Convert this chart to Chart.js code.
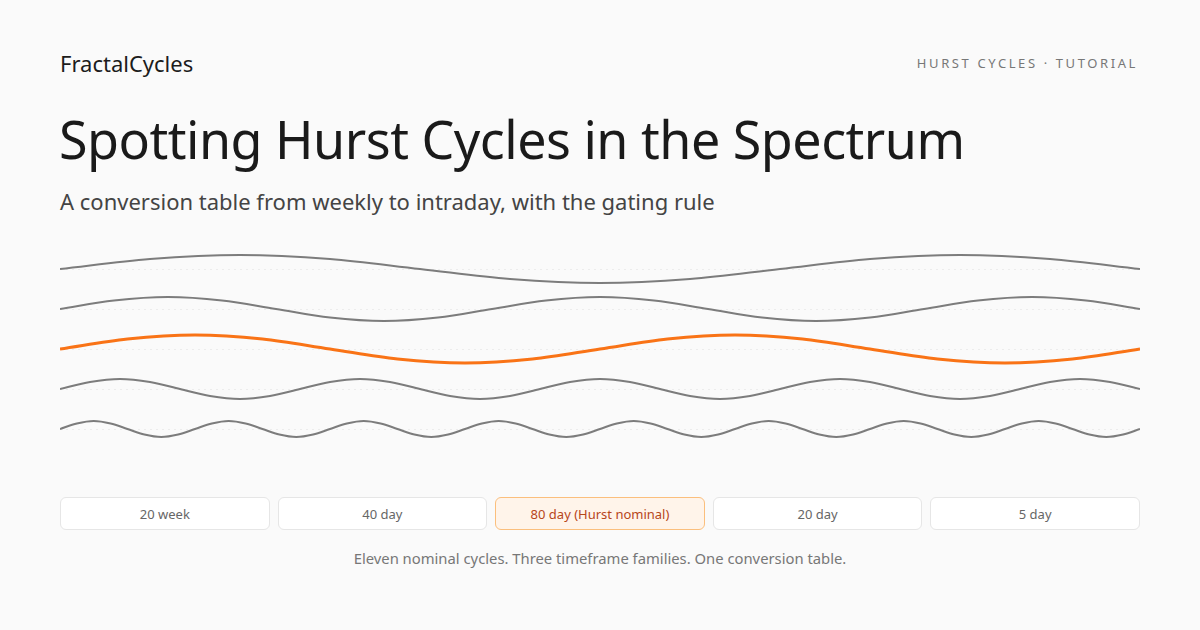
<!DOCTYPE html>
<html>
<head>
<meta charset="utf-8">
<script src="https://cdn.jsdelivr.net/npm/chart.js@4.4.1/dist/chart.umd.min.js"></script>
<style>
  html, body { margin: 0; padding: 0; }
  body {
    width: 1200px; height: 630px; overflow: hidden;
    background: #fafafa;
    font-family: "Noto Sans", "Open Sans", sans-serif;
    position: relative;
  }
  .brand { position: absolute; left: 60px; top: 48px; font-size: 22px; color: #1c1c1c; }
  .kicker { position: absolute; right: 62px; top: 54px; font-size: 13px; letter-spacing: 2.6px; color: #777; }
  h1 { position: absolute; left: 59px; top: 103px; margin: 0; font-size: 52px; font-weight: 400; color: #1a1a1a; letter-spacing: -0.5px; }
  .sub { position: absolute; left: 60px; top: 186px; font-size: 22px; color: #444; }
  .wrap { position: absolute; left: 60px; top: 249px; width: 1080px; height: 200px; }
  .pills { position: absolute; left: 60px; top: 497px; width: 1080px; display: flex; gap: 8px; }
  .pill {
    flex: 1; height: 31px; line-height: 33px; text-align: center;
    background: #fff; border: 1px solid #e6e6e6; border-radius: 6px;
    font-size: 13px; color: #666;
  }
  .pill.on { background: #fff4ea; border-color: #fbbf7d; color: #b7461a; }
  .foot { position: absolute; left: 0; width: 1200px; top: 548px; text-align: center; font-size: 14.8px; color: #777; }
</style>
</head>
<body>
<div class="brand">FractalCycles</div>
<div class="kicker">HURST CYCLES · TUTORIAL</div>
<h1>Spotting Hurst Cycles in the Spectrum</h1>
<div class="sub">A conversion table from weekly to intraday, with the gating rule</div>
<div class="wrap"><canvas id="chart"></canvas></div>
<div class="pills" id="pills"></div>
<div class="foot">Eleven nominal cycles. Three timeframe families. One conversion table.</div>

<script>
// cycles, longest at the top
const cycleNames = ["20 week", "40 day", "80 day (Hurst nominal)", "20 day", "5 day"];
const highlighted = 2;

// spacing between read points along the time axis (eighths of each cycle)
const stepWeek20 = 90;
const stepDay40 = 54;
const stepDay80 = 67.5;
const stepDay20 = 30;
const stepDay5 = 16.875;

const week20 = [0, 10, 14, 10, 0, -10, -14, -10, 0, 10, 14, 10, 0];
const day40 = [0, 8.5, 12, 8.5, 0, -8.5, -12, -8.5, 0, 8.5, 12, 8.5, 0, -8.5, -12, -8.5,
               0, 8.5, 12, 8.5, 0];
const day80 = [0, 10, 14, 10, 0, -10, -14, -10, 0, 10, 14, 10, 0, -10, -14, -10, 0];
const day20 = [0, 7, 10, 7, 0, -7, -10, -7, 0, 7, 10, 7, 0, -7, -10, -7, 0, 7, 10, 7,
               0, -7, -10, -7, 0, 7, 10, 7, 0, -7, -10, -7, 0, 7, 10, 7, 0];
const day5 = [0, 5.5, 8, 5.5, 0, -5.5, -8, -5.5, 0, 5.5, 8, 5.5, 0, -5.5, -8, -5.5,
              0, 5.5, 8, 5.5, 0, -5.5, -8, -5.5, 0, 5.5, 8, 5.5, 0, -5.5, -8, -5.5,
              0, 5.5, 8, 5.5, 0, -5.5, -8, -5.5, 0, 5.5, 8, 5.5, 0, -5.5, -8, -5.5,
              0, 5.5, 8, 5.5, 0, -5.5, -8, -5.5, 0, 5.5, 8, 5.5, 0, -5.5, -8, -5.5, 0];

const waves = [
  { values: week20, step: stepWeek20 },
  { values: day40, step: stepDay40 },
  { values: day80, step: stepDay80 },
  { values: day20, step: stepDay20 },
  { values: day5, step: stepDay5 }
];

// pills under the chart
const pillBox = document.getElementById("pills");
cycleNames.forEach((name, i) => {
  const d = document.createElement("div");
  d.className = "pill" + (i === highlighted ? " on" : "");
  d.textContent = name;
  pillBox.appendChild(d);
});

const scales = {
  x: { type: "linear", min: 0, max: 1080, display: false }
};
// one stacked y axis per wave, listed bottom first
for (let i = waves.length - 1; i >= 0; i--) {
  scales["y" + i] = {
    type: "linear",
    position: "left",
    stack: "waves",
    stackWeight: 1,
    min: -20,
    max: 20,
    afterBuildTicks: (axis) => { axis.ticks = [{ value: 0 }]; },
    ticks: { display: false },
    grid: { color: "#ececec", lineWidth: 1, drawTicks: false },
    border: { display: false, dash: [2, 4] }
  };
}

const datasets = waves.map((w, i) => ({
  label: cycleNames[i],
  data: w.values.map((v, k) => ({ x: k * w.step, y: v })),
  yAxisID: "y" + i,
  borderColor: i === highlighted ? "#f97316" : "#7c7c7c",
  borderWidth: i === highlighted ? 3 : 2,
  cubicInterpolationMode: "monotone",
  pointRadius: 0,
  fill: false,
  clip: false
}));

new Chart(document.getElementById("chart"), {
  type: "line",
  data: { datasets },
  options: {
    responsive: true,
    maintainAspectRatio: false,
    animation: false,
    layout: { padding: 0 },
    plugins: { legend: { display: false }, tooltip: { enabled: false } },
    scales
  }
});
</script>
</body>
</html>
